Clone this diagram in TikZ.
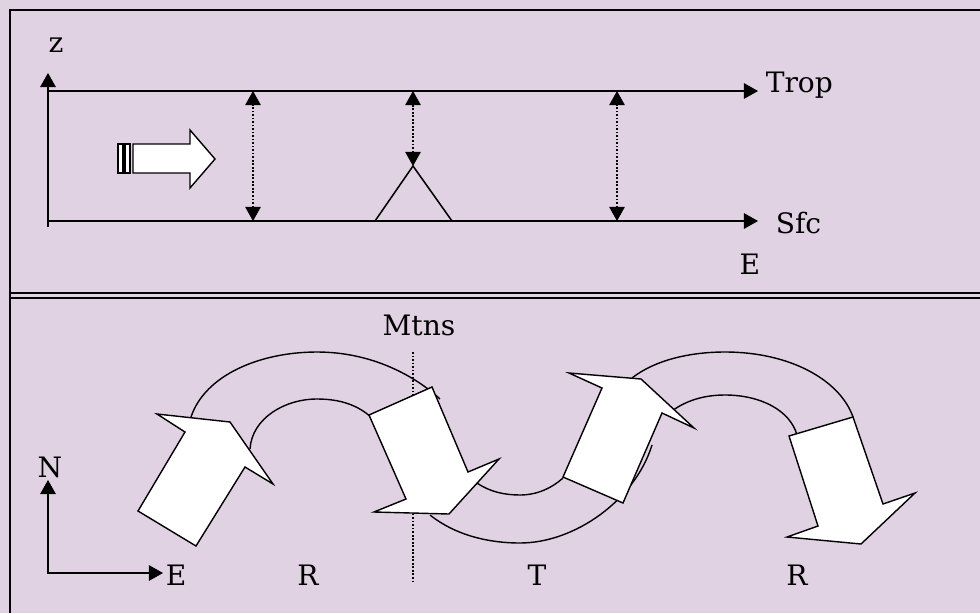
\documentclass[tikz,border=0pt]{standalone}
\usepackage{fontspec}
\setmainfont{DejaVu Serif}
\usetikzlibrary{arrows.meta}

\definecolor{bgpurple}{RGB}{225,210,227}

\begin{document}
\begin{tikzpicture}[x=0.025cm,y=-0.025cm,line width=1.1pt,
  lbl/.style={font=\fontsize{20}{24}\selectfont,inner sep=0pt},
  tip/.style={-{Triangle[length=10pt,width=11pt]}},
  dtip/.style={{Triangle[length=10pt,width=11pt]}-{Triangle[length=10pt,width=11pt]}},
  dots/.style={line width=0.8pt,dash pattern=on 1.2pt off 1.3pt},
  blockarrow/.style={draw,fill=white,line width=1pt,line join=miter},
  band/.style={line width=1pt}]
% Background and frame
\fill[bgpurple] (0,0) rectangle (980,613);
\useasboundingbox (0,0) rectangle (980,613);
\draw[line width=1.6pt] (10,613) -- (10,10) -- (980,10);
\draw[line width=1.3pt] (10,293) -- (980,293) (10,298) -- (980,298);
% Vertical section: axis and levels
\coordinate (zbot) at (48,227);
\coordinate (ztop) at (48,73);
\draw[tip] (zbot) -- (ztop);
\node[lbl] (z) at (56,45) {z};
\coordinate (tropw) at (48,91);
\coordinate (trope) at (758,91);
\coordinate (sfcw) at (48,221);
\coordinate (sfce) at (758,221);
\draw[tip] (tropw) -- (trope);
\draw[tip] (sfcw) -- (sfce);
\node[lbl,anchor=base west] (trop) at (765,92) {Trop};
\node[lbl,anchor=base west] (sfc) at (775,233) {Sfc};
\node[lbl,anchor=base] (east1) at (750,274) {E};
% Depth of the column
\foreach \x/\yb [count=\i] in {253/221,413/166,617/221} {
  \coordinate (up\i) at (\x,91);
  \coordinate (dn\i) at (\x,\yb);
  \draw[dots,dtip] (dn\i) -- (up\i);
}
% Mountain
\draw (375,221) -- (413,166) -- (452,221);
% Westerly flow
\draw[blockarrow] (133,144) -- (190,144) -- (190,130) -- (215,159) -- (190,188) -- (190,173) -- (133,173) -- cycle;
\draw[blockarrow] (118,144) rectangle (123,173);
\draw[blockarrow] (125,144) rectangle (130,173);
% Plan view: axes
\coordinate (corner) at (48,574);
\coordinate (ntip) at (48,480);
\coordinate (etip) at (163,573);
\draw[tip] (corner) -- (ntip);
\draw[tip] (48,573) -- (etip);
\node[lbl,anchor=base] (north) at (50,477) {N};
\node[lbl,anchor=base west] (east2) at (165,585) {E};
\node[lbl,anchor=base] (ridge1) at (308,585) {R};
\node[lbl,anchor=base] (trough) at (537,585) {T};
\node[lbl,anchor=base] (ridge2) at (797,585) {R};
% Mountain line
\node[lbl,anchor=base] (mtns) at (419,335) {Mtns};
\coordinate (mtop) at (413,352);
\coordinate (mbot) at (413,582);
\draw[dots] (mtop) -- (mbot);
% Bands of the curved arrows
\draw[band] (191,417) .. controls (205,375) and (260,352) .. (317,352) .. controls (372,352) and (415,376) .. (440,399);
\draw[band] (250,449) .. controls (252,418) and (285,399) .. (317,399) .. controls (340,399) and (358,405) .. (372,418);
\draw[band] (430,515) .. controls (455,535) and (488,543) .. (520,543) .. controls (575,543) and (635,500) .. (652,445);
\draw[band] (477,483) .. controls (490,492) and (505,495) .. (520,495) .. controls (537,495) and (552,488) .. (563,478);
\draw[band] (632,378) .. controls (655,360) and (690,352) .. (725,352) .. controls (790,352) and (840,380) .. (853,417);
\draw[band] (668,414) .. controls (685,400) and (705,395) .. (725,395) .. controls (760,395) and (790,410) .. (797,435);
% Arrow blocks
\draw[blockarrow] (138,511) -- (185,432) -- (157,414) -- (230,422) -- (273,484) -- (245,467) -- (196,546) -- cycle;
\draw[blockarrow] (369,415) -- (432,387) -- (468,472) -- (499,459) -- (449,514) -- (374,512) -- (406,499) -- cycle;
\draw[blockarrow] (563,477) -- (602,388) -- (569,373) -- (641,379) -- (694,428) -- (662,413) -- (623,503) -- cycle;
\draw[blockarrow] (789,436) -- (853,417) -- (883,504) -- (915,493) -- (861,544) -- (787,537) -- (818,526) -- cycle;
\end{tikzpicture}
\end{document}
